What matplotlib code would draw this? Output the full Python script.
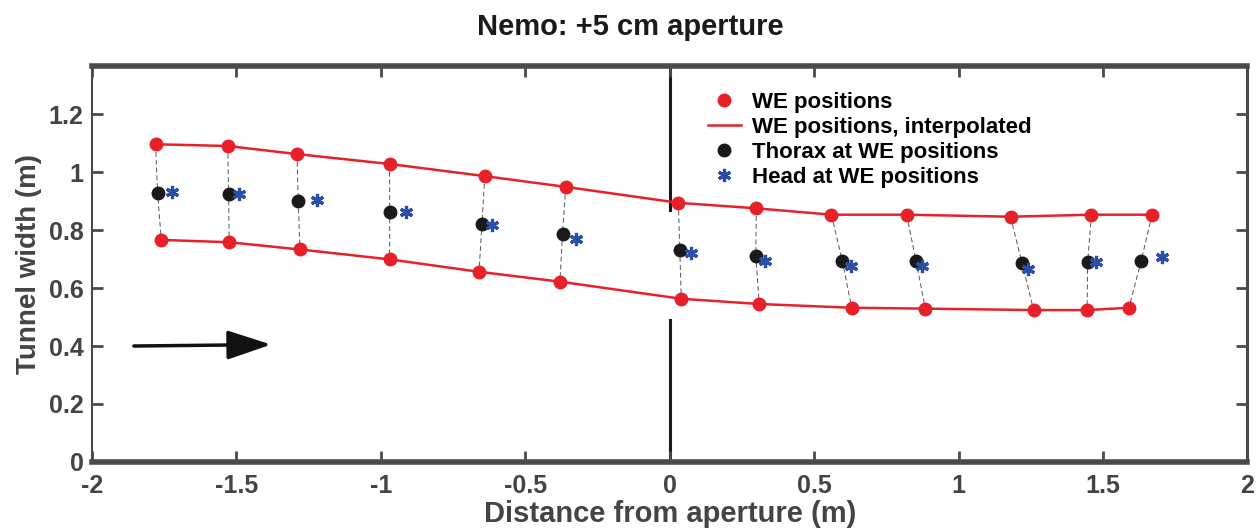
import matplotlib.pyplot as plt

plt.rcParams["font.family"] = ["Liberation Sans", "DejaVu Sans"]
plt.rcParams["font.weight"] = "bold"

# WE positions (upper and lower tunnel wall), Thorax and Head positions
upper_x = [-1.78, -1.53, -1.29, -0.97, -0.64, -0.36, 0.03, 0.30, 0.56, 0.82, 1.18, 1.46, 1.67]
upper_y = [1.096, 1.090, 1.062, 1.028, 0.986, 0.949, 0.894, 0.875, 0.853, 0.853, 0.846, 0.853, 0.853]
lower_x = [-1.76, -1.525, -1.28, -0.97, -0.66, -0.38, 0.04, 0.31, 0.63, 0.885, 1.26, 1.445, 1.59]
lower_y = [0.766, 0.758, 0.733, 0.699, 0.656, 0.622, 0.563, 0.545, 0.532, 0.529, 0.524, 0.524, 0.532]
thorax_x = [-1.773, -1.527, -1.286, -0.969, -0.650, -0.371, 0.035, 0.298, 0.598, 0.853, 1.220, 1.447, 1.632]
thorax_y = [0.929, 0.926, 0.900, 0.863, 0.821, 0.786, 0.731, 0.711, 0.692, 0.693, 0.685, 0.689, 0.693]
head_x = [-1.724, -1.492, -1.220, -0.913, -0.614, -0.326, 0.073, 0.329, 0.629, 0.873, 1.242, 1.476, 1.705]
head_y = [0.930, 0.926, 0.903, 0.862, 0.816, 0.769, 0.720, 0.693, 0.676, 0.676, 0.664, 0.691, 0.708]

x_ticks = [-2, -1.5, -1, -0.5, 0, 0.5, 1, 1.5, 2]
x_tick_labels = ["-2", "-1.5", "-1", "-0.5", "0", "0.5", "1", "1.5", "2"]
y_ticks = [0, 0.2, 0.4, 0.6, 0.8, 1.0, 1.2]
y_tick_labels = ["0", "0.2", "0.4", "0.6", "0.8", "1", "1.2"]

red = "#e8202a"
gray = "#4a4a4a"

fig = plt.figure(figsize=(12.6, 5.29), dpi=100)
ax = fig.add_axes([0.073, 0.1267, 0.917, 0.7483])

# aperture marker: vertical line at x=0 with a gap around the tunnel
ax.plot([0, 0], [0.869, 1.37], color="#1a1a1a", lw=2.2, zorder=1)
ax.plot([0, 0], [0, 0.49], color="#1a1a1a", lw=2.2, zorder=1)

# dashed connectors: upper wall -> thorax -> lower wall
for i in range(len(upper_x)):
    ax.plot([upper_x[i], thorax_x[i], lower_x[i]], [upper_y[i], thorax_y[i], lower_y[i]],
            color="#555555", lw=0.7, ls=(0, (5, 3)), zorder=2)

ax.plot(upper_x, upper_y, color=red, lw=1.8, zorder=3, label="WE positions, interpolated")
ax.plot(lower_x, lower_y, color=red, lw=1.8, zorder=3)
ax.plot(upper_x, upper_y, "o", color=red, ms=9, zorder=4, label="WE positions")
ax.plot(lower_x, lower_y, "o", color=red, ms=9, zorder=4)
ax.plot(thorax_x, thorax_y, "o", color="#1a1a1a", ms=9, zorder=5, label="Thorax at WE positions")
ax.plot(head_x, head_y, ls="none", marker=(6, 2, 0), color="#2b4ea6", ms=9.5, mew=2.3, zorder=5,
        label="Head at WE positions")

# direction of travel
ax.annotate("", xy=(-1.38, 0.405), xytext=(-1.855, 0.40),
            arrowprops=dict(arrowstyle="-|>,head_length=1.35,head_width=0.45", lw=2.5,
                            color="#111111", mutation_scale=20, shrinkA=0, shrinkB=0))

ax.set_xlim(-2, 2)
ax.set_ylim(0, 1.3655)
ax.set_xticks(x_ticks, x_tick_labels)
ax.set_yticks(y_ticks, y_tick_labels)
ax.tick_params(direction="in", length=8, width=2, color=gray, labelcolor="#444444",
               labelsize=18, top=True, right=True)
ax.tick_params(axis="x", pad=9)
ax.tick_params(axis="y", pad=6)

for side, lw in [("top", 4), ("bottom", 4), ("right", 2.2), ("left", 1.5)]:
    ax.spines[side].set_linewidth(lw)
    ax.spines[side].set_color(gray)

ax.set_xlabel("Distance from aperture (m)", fontsize=21, fontweight="bold", color="#444444", labelpad=1)
ax.set_ylabel("Tunnel width (m)", fontsize=20, fontweight="bold", color="#444444", labelpad=5)
fig.suptitle("Nemo: +5 cm aperture", fontsize=21, fontweight="bold", color="#1a1a1a", y=0.975)

handles, labels = ax.get_legend_handles_labels()
order = [1, 0, 2, 3]
ax.legend([handles[i] for i in order], [labels[i] for i in order], loc="upper left",
          bbox_to_anchor=(0.533, 0.935), frameon=False, fontsize=16, handlelength=1.5,
          handletextpad=0.5, labelspacing=0.18, borderpad=0, borderaxespad=0)

fig.savefig("out.png", dpi=100)
